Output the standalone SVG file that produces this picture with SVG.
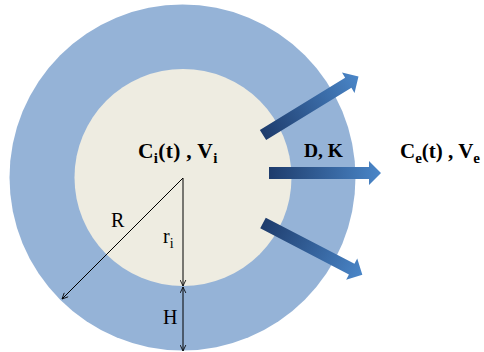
<svg xmlns="http://www.w3.org/2000/svg" width="484" height="352" viewBox="0 0 484 352">
  <defs>
    <linearGradient id="flow" x1="0" y1="0" x2="1" y2="0">
      <stop offset="0" stop-color="#1e3c6c"/>
      <stop offset="1" stop-color="#4a86c8"/>
    </linearGradient>
    <marker id="tip" viewBox="0 0 10 10" refX="9.5" refY="5" markerWidth="7" markerHeight="7" orient="auto-start-reverse" markerUnits="userSpaceOnUse">
      <path d="M1,1 L9.5,5 L1,9" fill="none" stroke="#000" stroke-width="1.2"/>
    </marker>
    <polygon id="flowArrow" points="0,-6 100,-6 100,-12 112,0 100,12 100,6 0,6"/>
  </defs>
  <style>
    .bold { font-family: "Liberation Serif", "Times New Roman", serif; font-weight: bold; fill: #000; }
    .lbl { font-family: "Liberation Serif", "Times New Roman", serif; fill: #000; }
    .dim { stroke: #000; stroke-width: 1; fill: none; }
    .flow { fill: url(#flow); }
  </style>

  <g id="outer-shell">
    <circle cx="182.5" cy="177.5" r="173" fill="#95b3d7"/>
  </g>
  <g id="inner-core">
    <circle cx="183" cy="177.5" r="108.5" fill="#eeece1"/>
  </g>

  <g id="connectors">
    <use href="#flowArrow" class="flow" transform="translate(263,135) rotate(-31.5)"/>
    <use href="#flowArrow" class="flow" transform="translate(269,173)"/>
    <use href="#flowArrow" class="flow" transform="translate(263,223) rotate(27.5)"/>
    <line class="dim" x1="183" y1="178" x2="62" y2="299" marker-end="url(#tip)"/>
    <line class="dim" x1="183" y1="178" x2="183" y2="286" marker-end="url(#tip)"/>
    <line class="dim" x1="183" y1="287" x2="183" y2="351" marker-start="url(#tip)" marker-end="url(#tip)"/>
  </g>

  <g id="labels">
    <text class="bold" x="138" y="158" font-size="21.5" letter-spacing="0.3">C<tspan font-size="15" dy="5">i</tspan><tspan dy="-5">(t) , V</tspan><tspan font-size="15" dy="5">i</tspan></text>
    <text class="bold" x="304" y="157" font-size="19.5">D, K</text>
    <text class="bold" x="400" y="158" font-size="21">C<tspan font-size="15" dy="5">e</tspan><tspan dy="-5">(t) , V</tspan><tspan font-size="15" dy="5">e</tspan></text>
    <text class="lbl" x="111" y="227" font-size="20">R</text>
    <text class="lbl" x="163" y="243" font-size="20">r<tspan font-size="14" dy="5">i</tspan></text>
    <text class="lbl" x="163" y="324" font-size="20">H</text>
  </g>
</svg>
